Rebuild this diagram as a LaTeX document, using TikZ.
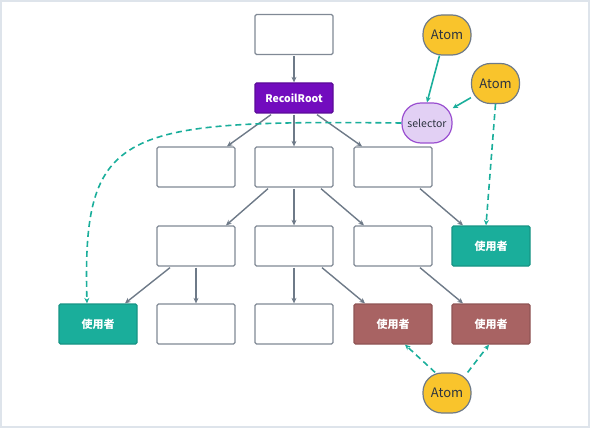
\documentclass[tikz,border=0pt]{standalone}
\usepackage{fontspec}
\setmainfont{Noto Sans CJK JP}
\usetikzlibrary{arrows.meta,positioning,calc}
\definecolor{linegray}{RGB}{110,122,136}
\definecolor{boxgray}{RGB}{128,137,149}
\definecolor{rootpurple}{RGB}{114,12,190}
\definecolor{userteal}{RGB}{26,174,155}
\definecolor{userred}{RGB}{168,99,99}
\definecolor{atomyellow}{RGB}{249,196,44}
\definecolor{selfill}{RGB}{226,208,244}
\definecolor{seldraw}{RGB}{154,79,208}
\definecolor{inktext}{RGB}{45,52,64}
\definecolor{framegray}{RGB}{222,228,235}

\begin{document}
\begin{tikzpicture}[x=1pt,y=-1pt,
  box/.style={draw=boxgray,fill=white,rounded corners=1.5pt,line width=1.3pt,
    minimum width=78pt,minimum height=40pt,inner sep=0pt},
  rootbox/.style={box,draw=rootpurple!80!black,fill=rootpurple,minimum height=30pt,
    text=white,font=\fontsize{10.5}{12}\selectfont\bfseries},
  user/.style={box,draw=#1!85!black,fill=#1,text=white,
    font=\fontsize{11}{13}\selectfont\bfseries},
  atom/.style={draw=linegray,fill=atomyellow,line width=1.2pt,rounded corners=19pt,
    minimum width=48pt,minimum height=40pt,inner sep=0pt,text=inktext,
    font=\fontsize{13}{15}\selectfont},
  selbox/.style={atom,draw=seldraw,fill=selfill,minimum width=50pt,
    font=\fontsize{10.5}{12}\selectfont},
  link/.style={draw=linegray,line width=1.4pt,-{Stealth[length=5.5pt,width=5pt]}},
  feed/.style={draw=userteal,line width=1.6pt,-{Stealth[length=5.5pt,width=5pt]}},
  dep/.style={feed,dash pattern=on 6pt off 4pt}]
\useasboundingbox (0,0) rectangle (590,428);
\draw[framegray,line width=1.5pt] (1,1) rectangle (589,427);

% tree of components
\node [box] (top) at (294,34.5) {};
\node [rootbox] (root) at (294,98) {RecoilRoot};
\node [box] (b1) at (196,167) {};
\node [box] (b2) at (294,167) {};
\node [box] (b3) at (393,167) {};
\node [box] (c1) at (196,246) {};
\node [box] (c2) at (294,246) {};
\node [box] (c3) at (393,246) {};
\node [user=userteal] (c4) at (491,246) {使用者};
\node [user=userteal] (d1) at (98,324) {使用者};
\node [box] (d2) at (196,324) {};
\node [box] (d3) at (294,324) {};
\node [user=userred] (d4) at (393,324) {使用者};
\node [user=userred] (d5) at (491,324) {使用者};

% atoms and selector
\node [atom] (atomA) at (447,35) {Atom};
\node [atom] (atomB) at (495.5,83.5) {Atom};
\node [selbox] (sel) at (427,123) {selector};
\node [atom] (atomC) at (447,393) {Atom};

\draw[link] ([yshift=-1pt]top.south) -- (root.north);
\draw[link] ([xshift=-23pt,yshift=-1pt]root.south) -- ([xshift=31pt]b1.north);
\draw[link] ([yshift=-1pt]root.south) -- (b2.north);
\draw[link] ([xshift=23pt,yshift=-1pt]root.south) -- ([xshift=-31pt]b3.north);
\draw[link] ([xshift=-26pt,yshift=-1pt]b2.south) -- ([xshift=30pt]c1.north);
\draw[link] ([yshift=-1pt]b2.south) -- (c2.north);
\draw[link] ([xshift=27pt,yshift=-1pt]b2.south) -- ([xshift=-29pt]c3.north);
\draw[link] ([xshift=27pt,yshift=-1pt]b3.south) -- ([xshift=-28pt]c4.north);
\draw[link] ([xshift=-26pt,yshift=-1pt]c1.south) -- ([xshift=27pt]d1.north);
\draw[link] ([yshift=-1pt]c1.south) -- (d2.north);
\draw[link] ([yshift=-1pt]c2.south) -- (d3.north);
\draw[link] ([xshift=28pt,yshift=-1pt]c2.south) -- ([xshift=-28pt]d4.north);
\draw[link] ([xshift=27pt,yshift=-1pt]c3.south) -- ([xshift=-28pt]d5.north);

\draw[feed] (atomA.-110) -- (sel.north);
\draw[feed] (atomB) -- (sel);
\draw[dep] (sel.west) .. controls (120,120) and (82,128) .. ([xshift=-11pt]d1.north);
\draw[dep] (atomB.south) -- ([xshift=-5pt]c4.north);
\draw[dep] (atomC.120) -- ([xshift=12pt]d4.south);
\draw[dep] (atomC.45) -- ([xshift=-2pt]d5.south);
\end{tikzpicture}
\end{document}
